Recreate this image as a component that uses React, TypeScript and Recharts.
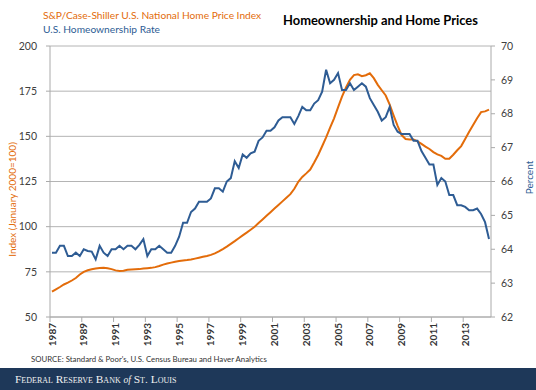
import React from "react";
import { LineChart, Line, XAxis, YAxis, CartesianGrid } from "recharts";

// Quarterly data, 1987Q1 .. 2014Q3
const startYear = 1987;
const priceIndex = [
  64.0, 65.3, 66.6, 68.0, 69.0, 70.2, 71.6, 73.5, 75.0, 75.9,
  76.4, 76.8, 77.1, 77.3, 77.0, 76.5, 75.8, 75.5, 75.6, 76.2,
  76.3, 76.4, 76.5, 76.8, 77.0, 77.2, 77.6, 78.2, 79.0, 79.6,
  80.1, 80.6, 81.0, 81.3, 81.5, 81.8, 82.3, 82.8, 83.3, 83.8,
  84.4, 85.2, 86.3, 87.6, 89.0, 90.5, 92.0, 93.6, 95.2, 96.7,
  98.3, 99.9, 102.0, 104.0, 106.0, 108.0, 110.0, 112.0, 114.0, 116.0,
  118.0, 121.0, 124.8, 127.5, 129.5, 131.6, 135.5, 139.7, 144.5, 149.4,
  154.8, 160.0, 166.0, 172.0, 177.0, 181.3, 183.9, 184.3, 183.3, 183.8,
  184.9, 182.2, 178.5, 175.5, 172.6, 167.5, 161.5, 155.8, 150.7, 148.5,
  148.3, 148.3, 147.2, 145.8, 144.3, 143.0, 141.3, 140.0, 139.2, 137.6,
  137.6, 139.8, 142.3, 144.6, 148.5, 152.5, 156.3, 160.0, 163.4, 163.8,
  164.8,
];
const ownershipRate = [
  63.9, 63.9, 64.1, 64.1, 63.8, 63.8, 63.9, 63.8, 64.0, 63.95,
  63.93, 63.7, 64.1, 63.9, 63.8, 64.0, 64.0, 64.1, 64.0, 64.1,
  64.1, 64.0, 64.13, 64.3, 63.8, 64.0, 64.0, 64.1, 64.0, 63.9,
  63.9, 64.1, 64.37, 64.78, 64.78, 65.1, 65.2, 65.4, 65.4, 65.4,
  65.5, 65.8, 65.8, 65.7, 66.0, 66.1, 66.6, 66.4, 66.8, 66.7,
  66.83, 66.88, 67.2, 67.3, 67.5, 67.5, 67.6, 67.8, 67.9, 67.9,
  67.9, 67.7, 67.93, 68.2, 68.1, 68.1, 68.3, 68.4, 68.65, 69.3,
  68.9, 69.0, 69.2, 68.7, 68.7, 68.9, 68.7, 68.8, 68.9, 68.8,
  68.46, 68.26, 68.06, 67.8, 67.9, 68.2, 67.67, 67.47, 67.4, 67.4,
  67.4, 67.2, 67.2, 66.9, 66.7, 66.5, 66.5, 65.9, 66.1, 66.0,
  65.6, 65.6, 65.3, 65.3, 65.25, 65.15, 65.15, 65.2, 65.04, 64.8,
  64.3,
];
const yearTicks = [1987, 1989, 1991, 1993, 1995, 1997, 1999, 2001, 2003, 2005, 2007, 2009, 2011, 2013];
const leftTicks = [50, 75, 100, 125, 150, 175, 200];
const rightTicks = [62, 63, 64, 65, 66, 67, 68, 69, 70];

const data = priceIndex.map((v, i) => ({
  t: startYear + i * 0.25 + 0.125,
  price: v,
  rate: ownershipRate[i],
}));

const ORANGE = "#E36C0A";
const BLUE = "#2E5C94";
const FONT = "Lato, 'Open Sans', sans-serif";

const XTick = (props: any) => {
  const { x, y, payload } = props;
  const ax = x + 2;
  const ay = y - 1;
  return (
    <text
      x={ax}
      y={ay}
      transform={`rotate(-90, ${ax}, ${ay})`}
      textAnchor="end"
      dy="0.35em"
      fontSize={10}
      fontWeight={700}
      fill="#333"
      fontFamily={FONT}
    >
      {payload.value}
    </text>
  );
};

export default function App() {
  return (
    <div
      style={{
        position: "fixed",
        left: 0,
        top: 0,
        width: 536,
        height: 390,
        background: "#fff",
        overflow: "hidden",
        fontFamily: FONT,
      }}
    >
      <LineChart
        width={536}
        height={390}
        data={data}
        margin={{ top: 46, right: 0, bottom: 43, left: 0 }}
      >
        <CartesianGrid vertical={false} stroke="#b4b4b4" yAxisId="left" />
        <XAxis
          dataKey="t"
          type="number"
          domain={[1987, 2014.75]}
          ticks={yearTicks}
          interval={0}
          tick={<XTick />}
          height={30}
          stroke="#aaa"
          tickSize={5}
          allowDataOverflow
        />
        <YAxis
          yAxisId="left"
          domain={[50, 200]}
          ticks={leftTicks}
          width={50}
          stroke="#aaa"
          tickSize={4}
          tickMargin={9}
          tick={{ fill: "#404040", fontSize: 10.5, fontFamily: FONT }}
          label={{
            value: "Index (January 2000=100)",
            angle: -90,
            position: "insideLeft",
            dx: 7,
            dy: 18,
            style: { fill: ORANGE, fontSize: 10, fontFamily: FONT, textAnchor: "middle" },
          }}
        />
        <YAxis
          yAxisId="right"
          orientation="right"
          domain={[62, 70]}
          ticks={rightTicks}
          width={45}
          stroke="#aaa"
          tickSize={4}
          tickMargin={6}
          tick={{ fill: "#404040", fontSize: 10.5, fontFamily: FONT }}
          label={{
            value: "Percent",
            angle: -90,
            position: "insideRight",
            dx: -2,
            dy: -4,
            style: { fill: BLUE, fontSize: 10, fontFamily: FONT, textAnchor: "middle" },
          }}
        />
        <Line
          yAxisId="left"
          dataKey="price"
          stroke={ORANGE}
          strokeWidth={2}
          dot={false}
          isAnimationActive={false}
        />
        <Line
          yAxisId="right"
          dataKey="rate"
          stroke={BLUE}
          strokeWidth={2}
          dot={false}
          isAnimationActive={false}
        />
      </LineChart>

      <div
        style={{
          position: "absolute",
          left: 43,
          top: 9,
          fontSize: 10.2,
          color: ORANGE,
          lineHeight: "13px",
          whiteSpace: "nowrap",
        }}
      >
        S&amp;P/Case-Shiller U.S. National Home Price Index
      </div>
      <div
        style={{
          position: "absolute",
          left: 43,
          top: 22.5,
          fontSize: 10.2,
          color: BLUE,
          lineHeight: "13px",
          whiteSpace: "nowrap",
        }}
      >
        U.S. Homeownership Rate
      </div>
      <div
        style={{
          position: "absolute",
          left: 283,
          top: 12,
          fontSize: 12.9,
          fontWeight: 700,
          color: "#000",
          lineHeight: "16px",
          whiteSpace: "nowrap",
        }}
      >
        Homeownership and Home Prices
      </div>
      <div
        style={{
          position: "absolute",
          left: 31,
          top: 353,
          fontSize: 7.8,
          color: "#333",
          lineHeight: "12px",
          whiteSpace: "nowrap",
        }}
      >
        SOURCE: Standard &amp; Poor's, U.S. Census Bureau and Haver Analytics
      </div>
      <div
        style={{
          position: "absolute",
          left: 0,
          top: 368,
          width: 536,
          height: 22,
          background: "#1E3859",
        }}
      >
        <div
          style={{
            position: "absolute",
            left: 15,
            top: 4,
            fontSize: 11.4,
            lineHeight: "14px",
            color: "#f2f2f2",
            fontFamily: "'Liberation Serif', 'DejaVu Serif', serif",
            fontVariant: "small-caps",
            whiteSpace: "nowrap",
          }}
        >
          Federal Reserve Bank <i style={{ fontVariant: "normal", fontSize: 9.5 }}>of</i> St. Louis
        </div>
      </div>
    </div>
  );
}
